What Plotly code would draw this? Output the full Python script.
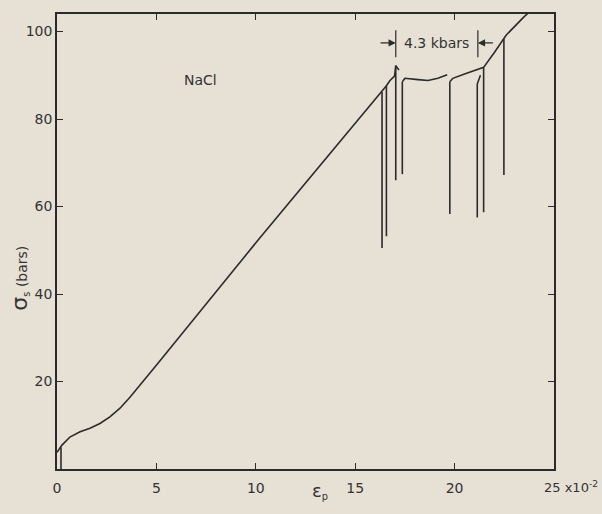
import plotly.graph_objects as go

# main stress-strain curve (None = pen lifted)
curve_eps = [0, 0.24, 0.65, 1.16, 1.66, 2.16, 2.66, 3.17, 3.67, 4.17, 4.67, 5.1, 10.45, 15.9,
             16.35, 16.57, 16.75, 16.98, 17.04, 17.2, None,
             17.37, 17.5, 18.16, 18.66, 19.16, 19.63, None,
             19.76, 19.91, 20.5, 21.17, 21.46, 22.0, 22.48, 22.6, 23.5, 23.7, None,
             21.14, 21.3]
curve_sig = [3.8, 5.4, 7.3, 8.5, 9.3, 10.4, 11.9, 13.9, 16.4, 19.1, 21.8, 24.3, 54.2, 83.9,
             86.2, 87.6, 88.8, 89.8, 92.2, 91.2, None,
             88.5, 89.3, 89.0, 88.8, 89.3, 90.1, None,
             88.5, 89.3, 90.3, 91.4, 91.8, 95.2, 98.4, 99.2, 103.4, 104.2, None,
             88.0, 90.0]

# vertical unloading drops
spike_eps = [0.2, 16.35, 16.57, 17.04, 17.37, 19.76, 21.14, 21.46, 22.48]
spike_low = [0, 50.5, 53.2, 66.0, 67.4, 58.3, 57.5, 58.7, 67.2]
spike_high = [5.0, 86.2, 87.6, 92.2, 88.5, 88.5, 88.0, 91.8, 98.4]

# 4.3 kbar marker
kbar_eps = [17.04, 21.17]
kbar_sig = [94.1, 100.3]

x_ticks = [0, 5, 10, 15, 20]
y_ticks = [20, 40, 60, 80, 100]

ink = "#2b2b2b"
paper = "#e7e1d5"

sx, sy = [], []
for e, lo, hi in zip(spike_eps, spike_low, spike_high):
    sx += [e, e, None]
    sy += [lo, hi, None]

mx, my = [], []
for e in kbar_eps:
    mx += [e, e, None]
    my += [kbar_sig[0], kbar_sig[1], None]

fig = go.Figure()
fig.add_trace(go.Scatter(x=curve_eps, y=curve_sig, mode="lines",
                         line=dict(color=ink, width=1.6), connectgaps=False))
fig.add_trace(go.Scatter(x=sx, y=sy, mode="lines", line=dict(color=ink, width=1.6)))
fig.add_trace(go.Scatter(x=mx, y=my, mode="lines", line=dict(color=ink, width=1.2)))

font = dict(family="DejaVu Sans, Liberation Sans, sans-serif", size=14, color="#333")

fig.update_layout(
    width=602, height=514,
    margin=dict(l=57, r=48, t=12, b=45),
    paper_bgcolor=paper, plot_bgcolor=paper,
    showlegend=False, font=font,
    xaxis=dict(range=[0, 25], tickvals=x_ticks, ticktext=[str(v) for v in x_ticks],
               ticks="inside", ticklen=6, tickcolor=ink, showline=True, linecolor=ink,
               linewidth=1.6, mirror="ticks", showgrid=False, zeroline=False,
               ticklabelstandoff=5),
    yaxis=dict(range=[0, 104], tickvals=y_ticks, ticktext=[str(v) for v in y_ticks],
               ticks="inside", ticklen=6, tickcolor=ink, showline=True, linecolor=ink,
               linewidth=1.6, mirror="ticks", showgrid=False, zeroline=False),
)

fig.add_annotation(x=25, y=0, xref="x", yref="y", text="25 x10<sup>-2</sup>",
                   showarrow=False, xanchor="left", yanchor="top", xshift=-12, yshift=-8,
                   font=dict(family=font["family"], size=13, color="#333"))
fig.add_annotation(x=0.53, y=-0.078, xref="paper", yref="paper",
                   text="<span style='font-size:18px'>ε</span><sub>p</sub>",
                   showarrow=False, font=font)
fig.add_annotation(x=-0.075, y=0.42, xref="paper", yref="paper", textangle=-90,
                   xanchor="center", yanchor="middle",
                   text="<span style='font-size:22px'>σ</span><sub>s</sub> (bars)",
                   showarrow=False, font=font)
fig.add_annotation(x=7.2, y=88.9, text="NaCl", showarrow=False, font=font)
fig.add_annotation(x=19.1, y=97.4, text="4.3 kbars", showarrow=False, font=font)
fig.add_annotation(x=kbar_eps[0], y=97.4, ax=16.2, ay=97.4, axref="x", ayref="y",
                   showarrow=True, arrowhead=2, arrowsize=1.2, arrowwidth=1.2,
                   arrowcolor=ink, text="")
fig.add_annotation(x=kbar_eps[1], y=97.4, ax=22.0, ay=97.4, axref="x", ayref="y",
                   showarrow=True, arrowhead=2, arrowsize=1.2, arrowwidth=1.2,
                   arrowcolor=ink, text="")

fig.write_html(
    "out.html",
    config={"displayModeBar": False},
    post_script="document.body.style.margin='0';document.body.style.overflow='hidden';"
                "document.body.style.background='" + paper + "';",
)
